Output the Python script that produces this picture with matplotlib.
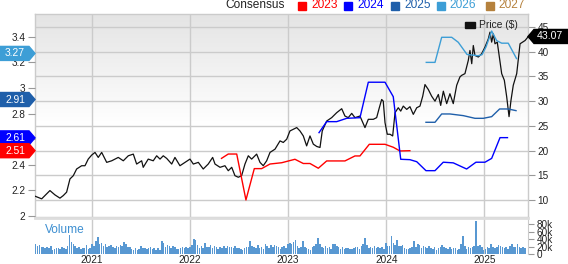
import numpy as np
import matplotlib
matplotlib.use("Agg")
import matplotlib.pyplot as plt
from matplotlib.patches import Polygon, Rectangle
from matplotlib.transforms import IdentityTransform

plt.rcParams['font.family'] = ['Liberation Sans', 'DejaVu Sans']

# ---------------- data ----------------
price_t = [2020.423, 2020.491, 2020.575, 2020.626, 2020.677, 2020.711, 2020.745, 2020.779, 2020.813, 2020.847,
           2020.898, 2020.932, 2020.965, 2021.000, 2021.034, 2021.067, 2021.102, 2021.153, 2021.204, 2021.271,
           2021.322, 2021.373, 2021.424, 2021.458, 2021.509, 2021.525, 2021.576, 2021.627, 2021.662, 2021.696,
           2021.729, 2021.764, 2021.815, 2021.848, 2021.899, 2021.950, 2022.001, 2022.035, 2022.086, 2022.136,
           2022.187, 2022.232, 2022.256, 2022.307, 2022.357, 2022.391, 2022.426, 2022.459, 2022.493, 2022.527,
           2022.561, 2022.595, 2022.629, 2022.680, 2022.714, 2022.747, 2022.782, 2022.816, 2022.867, 2022.918,
           2022.951, 2022.986, 2023.019, 2023.053, 2023.088, 2023.121, 2023.155, 2023.189, 2023.223, 2023.257,
           2023.292, 2023.325, 2023.348, 2023.393, 2023.444, 2023.495, 2023.546, 2023.579, 2023.613, 2023.648,
           2023.681, 2023.732, 2023.783, 2023.817, 2023.868, 2023.902, 2023.929, 2023.953, 2023.969, 2023.987,
           2024.010, 2024.038, 2024.065, 2024.089, 2024.122, 2024.147, 2024.173, 2024.208, 2024.241, 2024.275,
           2024.310, 2024.343, 2024.371, 2024.394, 2024.428, 2024.462, 2024.496, 2024.530, 2024.554, 2024.581,
           2024.615, 2024.648, 2024.682, 2024.717, 2024.750, 2024.768, 2024.801, 2024.818, 2024.835, 2024.852,
           2024.870, 2024.886, 2024.903, 2024.937, 2024.971, 2025.005, 2025.039, 2025.056, 2025.073, 2025.090,
           2025.107, 2025.130, 2025.151, 2025.175, 2025.202, 2025.226, 2025.250, 2025.270, 2025.293, 2025.328,
           2025.362, 2025.389, 2025.413, 2025.447]
price_v = [10.80, 10.26, 11.93, 11.06, 10.40, 10.92, 11.61, 14.28, 14.94, 16.29,
           16.95, 16.95, 18.29, 19.10, 19.64, 18.63, 19.64, 17.63, 17.95, 18.63,
           17.95, 18.96, 19.30, 17.29, 17.95, 16.63, 18.29, 17.95, 18.96, 18.29,
           18.96, 18.43, 17.29, 18.63, 16.95, 17.63, 18.29, 17.29, 17.63, 16.29,
           17.29, 18.63, 17.29, 16.63, 16.95, 15.94, 16.63, 14.94, 14.62, 14.94,
           17.29, 18.96, 18.29, 19.30, 17.63, 16.95, 17.95, 19.64, 20.30, 21.97,
           21.65, 22.31, 23.98, 24.32, 24.66, 23.98, 22.97, 20.96, 22.97, 21.31,
           20.84, 20.64, 23.98, 25.98, 26.67, 27.67, 28.47, 26.99, 26.67, 27.53,
           26.67, 26.99, 24.66, 26.33, 26.33, 26.67, 28.67, 30.34, 30.00, 25.66,
           23.31, 23.31, 22.97, 27.67, 28.67, 27.99, 29.00, 28.33, 28.88, 27.33,
           28.67, 29.00, 31.00, 33.35, 32.35, 31.00, 30.00, 31.35, 29.14, 32.01,
           29.50, 31.50, 29.50, 33.21, 34.90, 35.22, 35.56, 36.91, 38.23, 40.24,
           37.57, 41.24, 39.24, 38.92, 39.58, 40.92, 42.59, 43.94, 41.93, 43.59,
           41.59, 41.93, 38.92, 35.56, 34.22, 30.88, 26.87, 30.20, 33.21, 35.56,
           41.59, 41.93, 42.25, 43.07]

eps2023_t = [2022.322, 2022.391, 2022.477, 2022.571, 2022.656, 2022.731, 2022.816, 2022.935, 2023.070, 2023.155,
             2023.223, 2023.308, 2023.393, 2023.579, 2023.681, 2023.732, 2023.827, 2023.987, 2024.071, 2024.139,
             2024.240]
eps2023_v = [2.45, 2.484, 2.484, 2.125, 2.37, 2.37, 2.406, 2.416, 2.443, 2.41,
             2.41, 2.373, 2.43, 2.43, 2.469, 2.469, 2.56, 2.56, 2.537, 2.508,
             2.51]
eps2024_t = [2023.315, 2023.393, 2023.495, 2023.597, 2023.732, 2023.817, 2023.987, 2024.071, 2024.147, 2024.240,
             2024.310, 2024.404, 2024.496, 2024.580, 2024.682, 2024.818, 2024.913, 2025.005, 2025.073, 2025.158,
             2025.234]
eps2024_v = [2.651, 2.737, 2.737, 2.763, 2.768, 3.045, 3.045, 2.932, 2.443, 2.44,
             2.424, 2.354, 2.354, 2.42, 2.415, 2.367, 2.42, 2.42, 2.45, 2.612,
             2.612]
eps2025_t = [2024.404, 2024.496, 2024.564, 2024.648, 2024.784, 2024.903, 2024.988, 2025.073, 2025.154, 2025.242,
             2025.321]
eps2025_v = [2.732, 2.732, 2.797, 2.797, 2.784, 2.763, 2.763, 2.776, 2.836, 2.836, 2.823]
eps2026_t = [2024.407, 2024.496, 2024.564, 2024.666, 2024.733, 2024.822, 2024.934, 2024.975, 2025.015, 2025.073,
             2025.124, 2025.175, 2025.242, 2025.326]
eps2026_v = [3.20, 3.20, 3.396, 3.396, 3.357, 3.262, 3.252, 3.26, 3.32, 3.445,
             3.37, 3.35, 3.35, 3.23]

volume_k = [26, 22, 25, 18, 20, 15, 19, 16, 21, 12,
            14, 17, 15, 13, 19, 16, 14, 22, 50, 33,
            26, 21, 16, 18, 14, 16, 15, 23, 13, 17,
            28, 22, 36, 46, 27, 30, 22, 26, 18, 21,
            24, 20, 17, 22, 19, 24, 21, 33, 27, 20,
            18, 14, 12, 16, 10, 13, 21, 17, 15, 13,
            16, 19, 14, 17, 12, 15, 11, 34, 30, 20,
            24, 22, 16, 21, 19, 14, 13, 17, 18, 15,
            20, 16,
            18, 24, 40, 38, 25, 16, 22, 17, 30, 20,
            18, 24, 16, 21, 18, 14, 20, 17, 22, 16,
            21, 20, 18, 15, 22, 17, 16, 13, 12, 15,
            19, 20, 34, 22, 18, 16, 24, 16, 20, 14,
            26, 22, 17, 25, 20, 24, 22, 18, 14, 19,
            22, 16,
            28, 30, 26, 32, 37, 22, 16, 18, 35, 20,
            16, 14, 12, 18, 22, 26, 42, 28, 20, 17,
            22, 16, 20, 14, 28, 26, 22, 18, 14, 20,
            14, 15, 16, 14, 13, 16, 20, 18, 14, 22,
            26, 43, 24, 15, 20, 17, 22, 15, 18, 16,
            20, 14,
            30, 22, 22, 48, 30, 24, 38, 22, 22, 24,
            16, 14, 14, 16, 20, 36, 18, 28, 24, 16,
            22, 18, 16, 22, 16, 14, 20, 12, 16, 20,
            24, 18, 16, 14, 18, 14, 16, 16, 12, 14,
            26, 48, 22, 14, 20, 16, 18, 22, 88, 22,
            24, 18,
            12, 14, 18, 16, 28, 20, 16, 18, 24, 22,
            20, 16, 18, 14, 22, 26, 18, 20, 26, 20,
            16, 18, 16]
volume_start = 2020.43
week = 1 / 52.18

years = [2021, 2022, 2023, 2024, 2025]
price_ticks = [10, 15, 20, 25, 30, 35, 40, 45]
eps_ticks = [2, 2.2, 2.4, 2.6, 2.8, 3, 3.2, 3.4]
eps_labels = ['2', '2.2', '2.4', '2.6', '2.8', '3', '3.2', '3.4']
vol_ticks = [0, 20, 40, 60, 80]
vol_labels = ['0', '20k', '40k', '60k', '80k']

legend_years = ['2023', '2024', '2025', '2026', '2027']
legend_colors = ['#ff0000', '#0000ff', '#1f5faa', '#3d9ed6', '#b5813d']
tag_values = [3.27, 2.91, 2.61, 2.51]
tag_colors = ['#3d9ed6', '#1f5faa', '#0000ff', '#ff0000']
last_price = 43.07

# ---------------- layout ----------------
W, H = 568, 264
fig = plt.figure(figsize=(W / 100, H / 100), dpi=100)


def rect(x0, y0, x1, y1):
    return [x0 / W, 1 - y1 / H, (x1 - x0) / W, (y1 - y0) / H]


XMIN, XMAX = 2020.423, 2025.443
grid_c = '#cbcbcb'
text_c = '#222222'
tick_c = '#999999'

# gradient background
bg = fig.add_axes(rect(35, 14, 528, 217))
bg.axis('off')
t = np.linspace(0, 1, 256)
c = 0.895 + 0.105 * np.clip(t / 0.55, 0, 1)
img = np.repeat(np.stack([c, c, c], axis=-1)[:, None, :], 2, axis=1)
bg.imshow(img, aspect='auto', extent=[0, 1, 0, 1])
bg.set_xlim(0, 1)
bg.set_ylim(0, 1)

ax = fig.add_axes(rect(35, 14, 528, 217))
ax.set_facecolor('none')
axe = ax.twinx()

ax.set_xlim(XMIN, XMAX)
ax.set_ylim(6.59, 47.61)
ax.set_xticks(years)
ax.set_yticks(price_ticks)
ax.grid(True, color=grid_c, lw=1)
ax.tick_params(axis='x', length=0, labelbottom=False)
ax.yaxis.tick_right()
ax.tick_params(axis='y', left=False, labelleft=False, right=True, labelright=True,
               length=5, width=0.8, color=tick_c, labelsize=7.2, labelcolor=text_c, pad=2)
for s in ax.spines.values():
    s.set_color(grid_c)
    s.set_linewidth(1)
ax.plot(price_t, price_v, color='#111111', lw=0.9, zorder=3)

axe.set_ylim(1.992, 3.578)
axe.set_yticks(eps_ticks)
axe.set_yticklabels(eps_labels)
axe.yaxis.tick_left()
axe.tick_params(axis='y', left=True, labelleft=True, right=False, labelright=False,
                length=5, width=0.8, color=tick_c, labelsize=7.2, labelcolor=text_c, pad=2)
for s in axe.spines.values():
    s.set_visible(False)
axe.plot(eps2023_t, eps2023_v, color=legend_colors[0], lw=1.0)
axe.plot(eps2024_t, eps2024_v, color=legend_colors[1], lw=1.0)
axe.plot(eps2025_t, eps2025_v, color=legend_colors[2], lw=1.0)
axe.plot(eps2026_t, eps2026_v, color=legend_colors[3], lw=1.0)

# volume panel
axv = fig.add_axes(rect(35, 218, 528, 254))
vx = [volume_start + i * week for i in range(len(volume_k))]
axv.bar(vx, volume_k, width=week * 0.82, color='#5898d2', align='center', linewidth=0)
axv.set_xlim(XMIN, XMAX)
axv.set_ylim(0, 97)
axv.set_xticks(years)
axv.set_xticklabels([str(y) for y in years])
axv.set_yticks(vol_ticks)
axv.set_yticklabels(vol_labels)
axv.yaxis.tick_right()
axv.tick_params(axis='y', length=4, width=0.8, color=tick_c, labelsize=7.2,
                labelcolor=text_c, pad=2)
axv.tick_params(axis='x', length=0, labelsize=7.2, labelcolor=text_c, pad=1)
axv.grid(True, axis='x', color=grid_c, lw=1)
axv.set_axisbelow(True)
for k, s in axv.spines.items():
    s.set_color(grid_c)
axv.spines['top'].set_color('#dddddd')
axv.spines['top'].set_linewidth(2)
axv.spines['left'].set_visible(False)
axv.spines['bottom'].set_visible(False)
axv.text(10 / 493, 0.68, 'Volume', transform=axv.transAxes, fontsize=8.6,
         color='#3d8fd1', va='center', ha='left')

# legend at top
fy = 1 - 5.5 / H
fig.text(225 / W, fy, 'Consensus', fontsize=8.6, color=text_c, va='center', ha='left')
sq_x = [298, 344, 391, 437, 486]
tx_x = [311, 357, 404, 449, 498]
for yr, col, sx, tx in zip(legend_years, legend_colors, sq_x, tx_x):
    fig.patches.append(Rectangle((sx / W, 1 - 9.5 / H), 8 / W, 8 / H, color=col,
                                 transform=fig.transFigure, figure=fig))
    fig.text(tx / W, fy, yr, fontsize=8.6, color=col, va='center', ha='left')

# price legend inside plot
fig.patches.append(Rectangle((465 / W, 1 - 28 / H), 10 / W, 6 / H, color='#111111',
                             transform=fig.transFigure, figure=fig))
fig.text(479 / W, 1 - 25 / H, 'Price ($)', fontsize=7.4, color=text_c, va='center', ha='left')

# value tags
fig.canvas.draw()
h = 7
for v, col in zip(tag_values, tag_colors):
    yc = axe.transData.transform((XMIN, v))[1]
    poly = Polygon([(0, yc - h), (29, yc - h), (35, yc), (29, yc + h), (0, yc + h)],
                   closed=True, color=col, transform=IdentityTransform(), zorder=10)
    fig.patches.append(poly)
    fig.text(15 / W, yc / H, f'{v:.2f}', fontsize=7.4, color='white', va='center',
             ha='center', zorder=11)

yc = ax.transData.transform((XMAX, last_price))[1]
poly = Polygon([(528, yc), (534, yc + h), (568, yc + h), (568, yc - h), (534, yc - h)],
               closed=True, color='#000000', transform=IdentityTransform(), zorder=10)
fig.patches.append(poly)
fig.text(550 / W, yc / H, f'{last_price:.2f}', fontsize=7.6, color='white', va='center',
         ha='center', zorder=11)

fig.savefig('out.png', dpi=100)
